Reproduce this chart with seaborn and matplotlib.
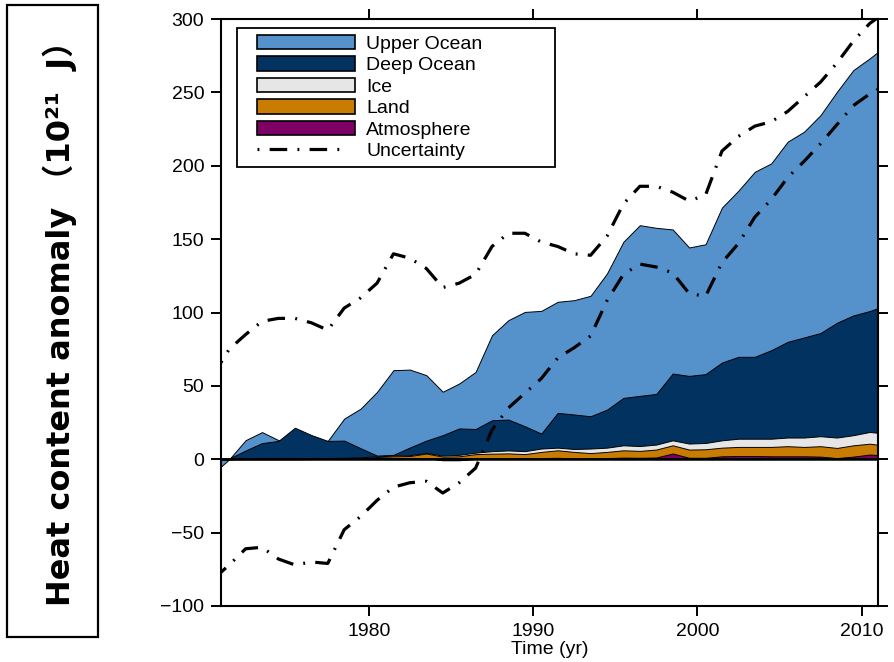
import numpy as np
import matplotlib
matplotlib.use("Agg")
import matplotlib.pyplot as plt
import matplotlib.patches as mpatches
from matplotlib.lines import Line2D
from matplotlib.legend_handler import HandlerPatch, HandlerLine2D
import seaborn as sns

# ---- data: heat content anomaly (10^21 J), mid-year values ----
years = np.arange(1970, 2012) + 0.5

atmosphere = [0.0, 0.0, 0.0, 0.0, 0.0, 0.0, 0.1, 0.2, 0.3, 0.3,
              0.5, 0.5, 0.4, 0.8, -0.7, -0.7, 0.3, 0.6, 0.6, 0.5,
              0.8, 1.0, 0.6, 0.3, 0.8, 1.1, 1.0, 1.2, 3.9, 1.0,
              1.0, 2.0, 2.2, 2.2, 2.0, 2.0, 2.0, 1.8, 0.8, 1.8,
              3.2, 2.5]
land = [0.0, 0.0, 0.2, 0.3, 0.3, 0.4, 0.4, 0.4, 0.5, 0.7,
        1.0, 1.5, 1.8, 3.1, 2.5, 2.7, 3.2, 3.2, 3.4, 3.0,
        4.2, 5.1, 4.4, 3.9, 4.2, 5.0, 4.7, 5.4, 5.6, 5.6,
        5.8, 5.9, 6.2, 6.2, 6.4, 6.9, 6.4, 7.1, 6.9, 7.7,
        7.4, 6.7]
ice = [0.0, 0.0, 0.1, 0.2, 0.2, 0.2, 0.2, 0.2, 0.2, 0.3,
       0.5, 0.5, 0.6, 0.4, 0.7, 1.0, 1.0, 1.7, 2.0, 2.0,
       2.3, 1.8, 2.0, 3.1, 2.9, 3.4, 3.3, 3.4, 3.4, 4.1,
       4.3, 5.0, 5.6, 5.6, 5.6, 5.9, 6.4, 6.8, 7.1, 6.9,
       8.0, 8.2]
deep_ocean = [0.0, 0.5, 5.7, 10.5, 12.0, 20.9, 15.8, 11.7, 11.7, 6.2,
              0.5, 0.5, 5.2, 8.4, 13.9, 18.0, 16.1, 21.1, 21.0, 17.0,
              10.2, 23.7, 23.5, 22.0, 25.9, 32.3, 34.2, 34.5, 45.5, 46.1,
              46.9, 53.0, 55.8, 55.8, 60.3, 65.2, 68.2, 70.3, 78.2, 81.6,
              82.4, 87.6]
upper_ocean = [-10.0, -0.5, 7.0, 7.5, 0.5, -9.5, -4.5, 0.0, 15.0, 27.0,
               43.4, 57.7, 53.1, 44.6, 29.6, 30.6, 38.9, 57.9, 67.8, 77.9,
               83.6, 75.7, 77.9, 82.1, 92.8, 106.4, 116.3, 113.2, 98.2, 87.5,
               88.5, 105.6, 113.2, 126.1, 127.3, 136.4, 140.2, 148.5, 157.4, 167.2,
               172.2, 177.0]

# uncertainty envelope around the total
upper_bound = [57, 75, 85, 94, 96, 96, 93, 88, 103, 110,
               120, 140, 137, 130, 117, 120, 126, 145, 154, 154,
               148, 145, 140, 139, 152, 174, 186, 186, 182, 176,
               180, 210, 220, 227, 230, 237, 247, 257, 270, 285,
               297, 305]
lower_bound = [-82, -72, -61, -60, -68, -72, -70, -71, -48, -39,
               -28, -19, -16, -15, -23, -16, -6, 20, 35, 45,
               55, 69, 76, 84, 108, 126, 133, 131, 127, 113,
               111, 134, 147, 165, 177, 192, 203, 215, 228, 241,
               249, 255]

components = ["Atmosphere", "Land", "Ice", "Deep Ocean", "Upper Ocean"]
series = [atmosphere, land, ice, deep_ocean, upper_ocean]
colors = {"Upper Ocean": "#5591cb", "Deep Ocean": "#02325f",
          "Ice": "#e6e6e6", "Land": "#c87c02", "Atmosphere": "#7e0064"}

xticks = [1980, 1990, 2000, 2010]
yticks = [-100, -50, 0, 50, 100, 150, 200, 250, 300]

# ---- style ----
sns.set_style("ticks")
plt.rcParams["font.family"] = ["Liberation Sans", "DejaVu Sans"]
plt.rcParams["text.color"] = "black"
plt.rcParams["axes.labelcolor"] = "black"

fig = plt.figure(figsize=(8.95, 6.62), dpi=100)
ax = fig.add_axes([221 / 895, 1 - 606 / 662, 657 / 895, 587 / 662])

# cumulative energy inventory: each curve filled from zero, largest first
cumulative = np.cumsum(np.array(series, dtype=float), axis=0)
for name, cum in reversed(list(zip(components, cumulative))):
    ax.fill_between(years, 0, cum, facecolor=colors[name],
                    edgecolor="black", linewidth=0.7, zorder=2)

ax.axhline(0, color="black", linewidth=1.4, zorder=3)

dash_pattern = (5.5, 3.2, 0.6, 3.2)
dash_dot = (0, dash_pattern)
for bound in (upper_bound, lower_bound):
    sns.lineplot(x=years, y=bound, ax=ax, color="black", linewidth=2.3,
                 linestyle=dash_dot, legend=False, zorder=4)

ax.set_xlim(1971, 2011)
ax.set_ylim(-100, 300)
ax.set_xticks(xticks)
ax.set_yticks(yticks)
ax.tick_params(axis="both", which="both", direction="out", length=7,
               width=1.4, labelsize=14, colors="black", pad=5,
               top=True, right=True, labeltop=False, labelright=False)
for sp in ax.spines.values():
    sp.set_visible(True)
    sp.set_linewidth(1.5)
    sp.set_color("black")
    sp.set_zorder(5)

ax.set_xlabel("Time (yr)", fontsize=14, labelpad=1, color="black")
ax.set_ylabel("")

# ---- legend ----
legend_order = ["Upper Ocean", "Deep Ocean", "Ice", "Land", "Atmosphere"]
handles = [mpatches.Patch(facecolor=colors[n], edgecolor="black", linewidth=1.2)
           for n in legend_order]
# legend sample starts on the dot of the pattern
handles.append(Line2D([], [], color="black", linewidth=2.3,
                      linestyle=(dash_pattern[0] + dash_pattern[1], dash_pattern)))
labels = legend_order + ["Uncertainty"]


def inset_patch(legend, orig_handle, xdescent, ydescent, width, height, fontsize):
    inset = 0.68 * fontsize
    return mpatches.Rectangle((-xdescent + inset, -ydescent), width - inset, height)


leg = ax.legend(handles, labels, loc="upper left",
                bbox_to_anchor=(16 / 657, 0.4, 318 / 657, (606 - 28) / 587 - 0.4),
                mode="expand", borderaxespad=0, fontsize=14,
                handlelength=5.7, handleheight=0.75, handletextpad=0.6,
                labelspacing=0.185, borderpad=0.35, fancybox=False,
                framealpha=1, edgecolor="black",
                handler_map={mpatches.Patch: HandlerPatch(patch_func=inset_patch),
                             Line2D: HandlerLine2D(marker_pad=0.7, numpoints=2)})
leg.get_frame().set_linewidth(1.3)
leg.set_zorder(6)
for t in leg.get_texts():
    t.set_color("black")

# ---- boxed y-axis title ----
fig.patches.append(mpatches.Rectangle((7 / 895, 1 - 637 / 662), 91 / 895, 632 / 662,
                                      transform=fig.transFigure, figure=fig,
                                      fill=False, edgecolor="black", linewidth=1.6))
fig.text(60 / 895, 1 - 315 / 662, "Heat content anomaly （10²¹  J）",
         rotation=90, ha="center", va="center", fontsize=23, fontweight="bold",
         color="black", family=["DejaVu Sans", "Noto Sans CJK SC"])

fig.savefig("out.png", dpi=100, facecolor="white")
